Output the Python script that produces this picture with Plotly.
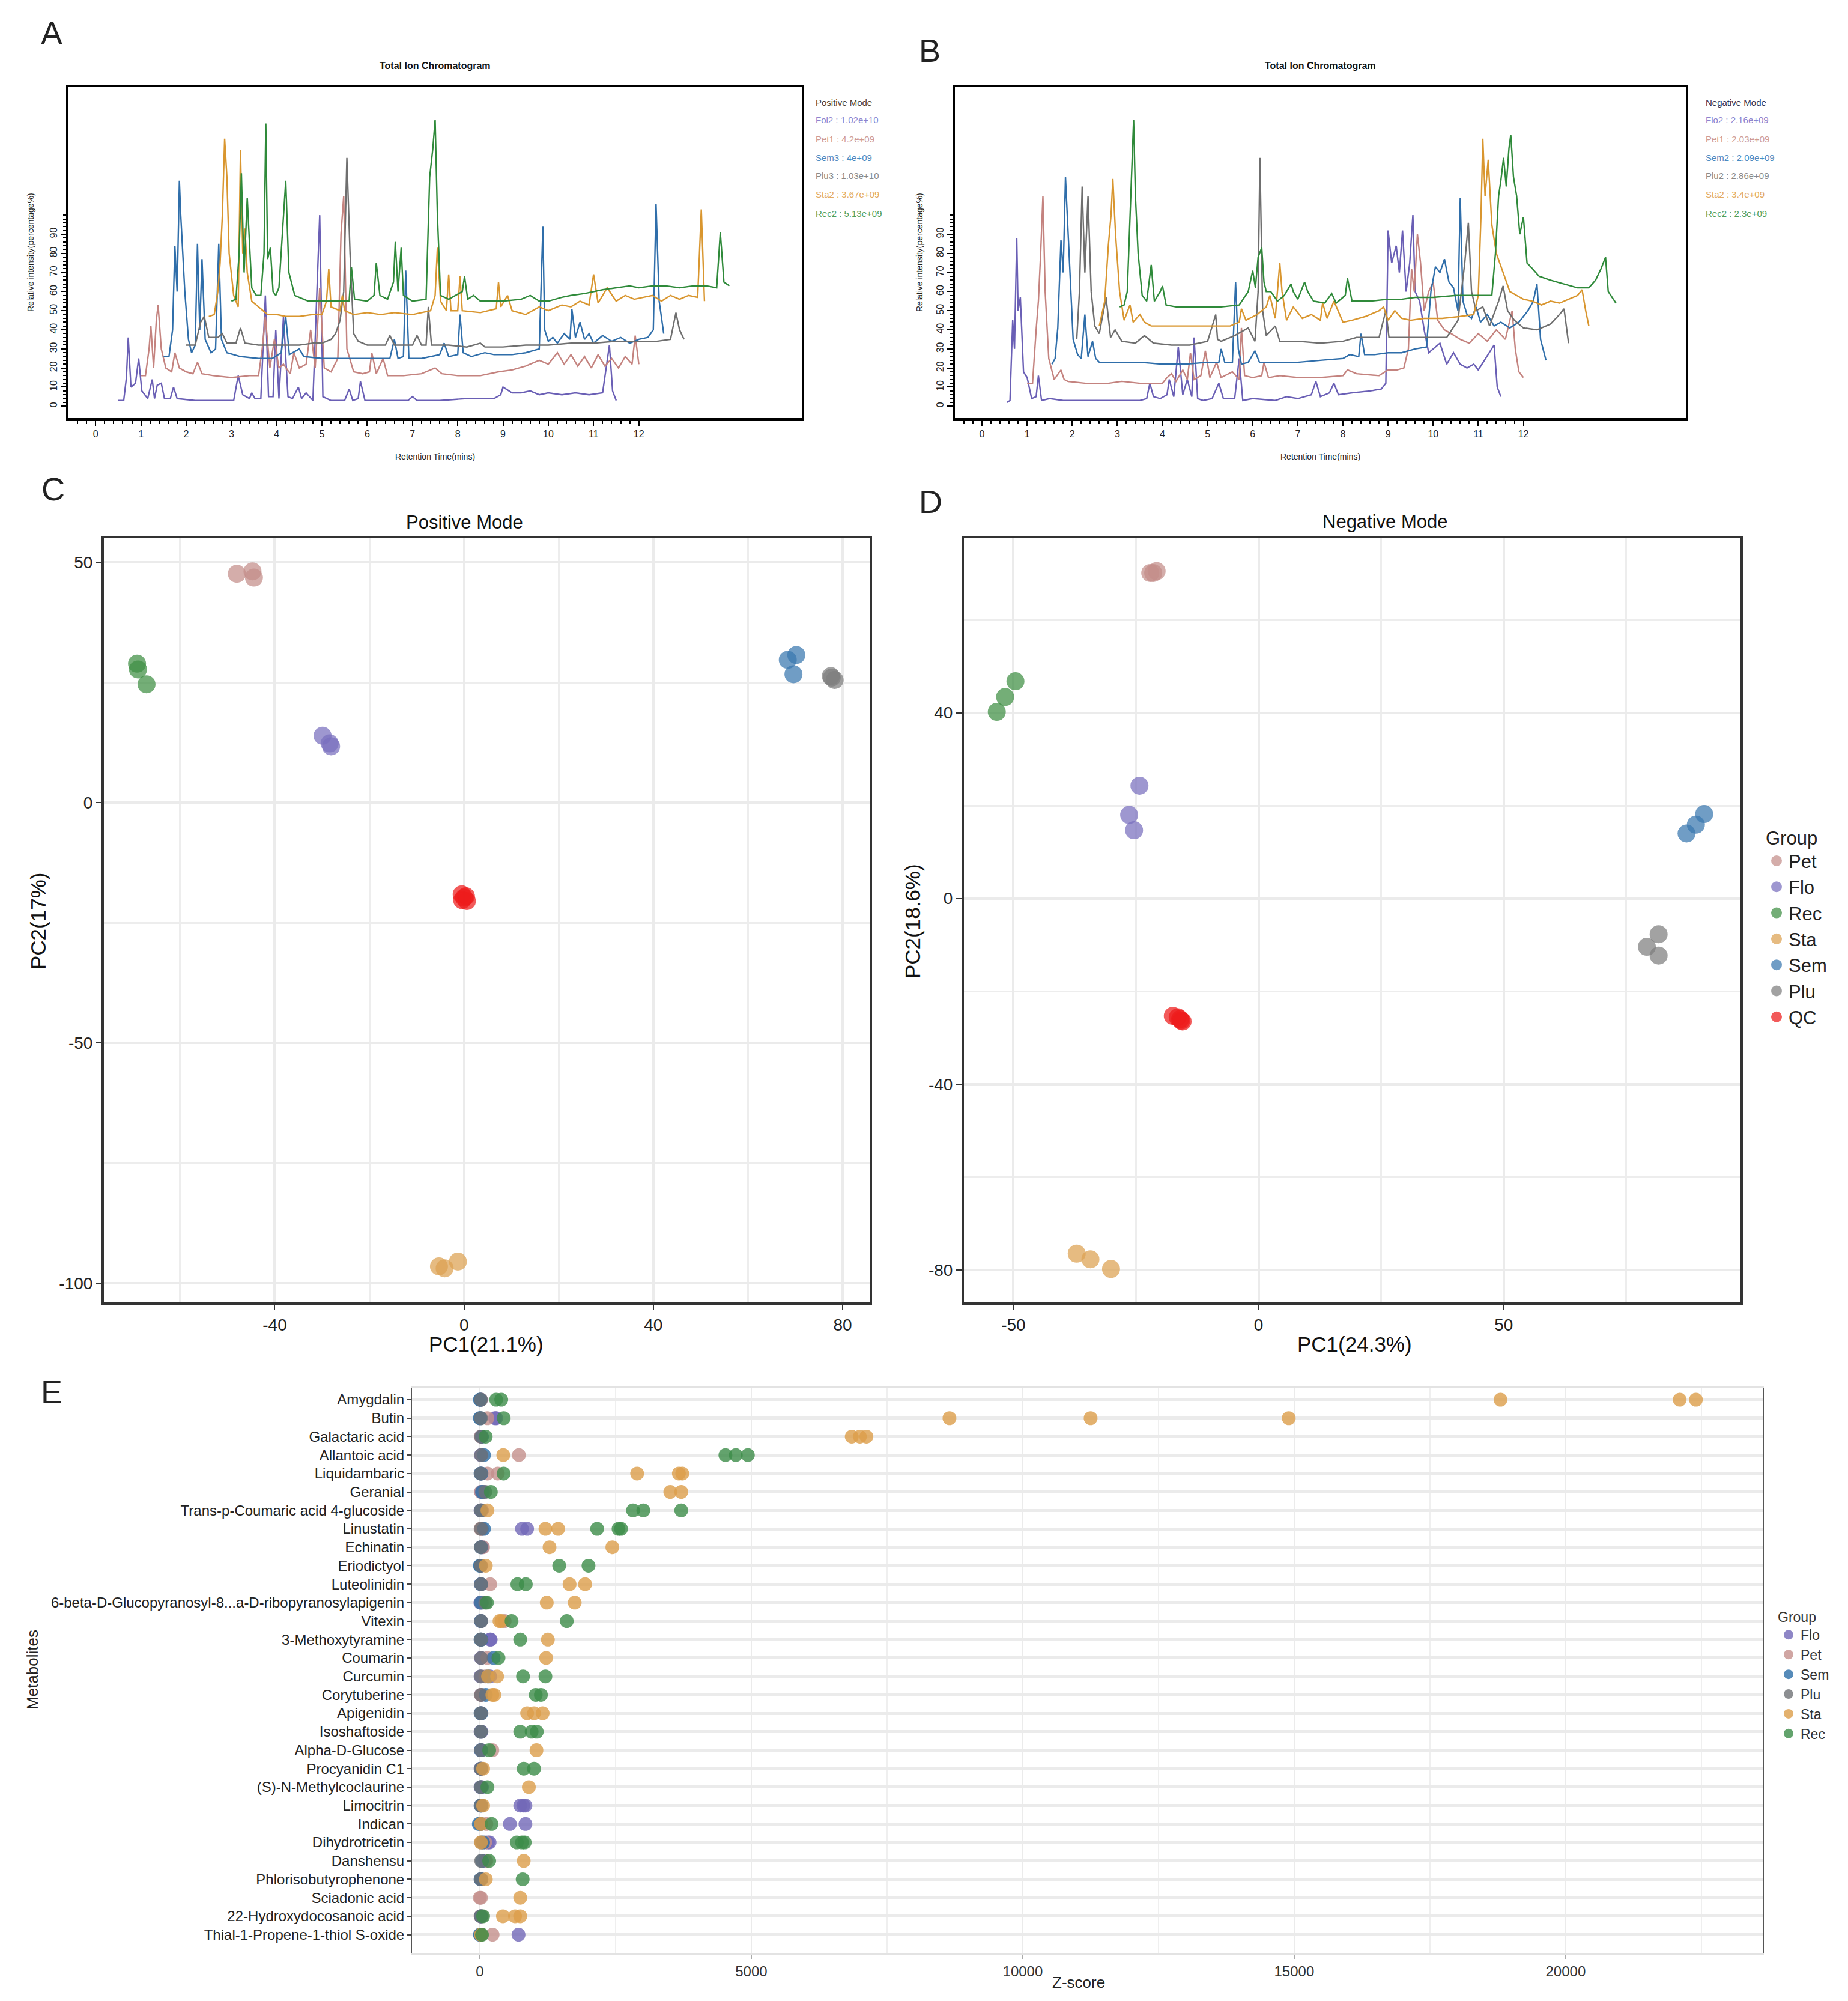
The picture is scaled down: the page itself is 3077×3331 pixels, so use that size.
import plotly.graph_objects as go

W, H = 3077, 3331
FONT = "Liberation Sans, Arial, Helvetica, sans-serif"


def fx(p):
    return p / W


def fy(p):
    return 1 - p / H


# ---------------- Panel A: positive-mode total ion chromatograms ----------------
pos_flo_t = [0.50, 0.62, 0.68, 0.72, 0.78, 0.88, 0.95, 1.02, 1.15, 1.25, 1.30, 1.36, 1.45, 1.52, 1.65, 1.72, 1.80, 2.2, 2.8, 3.05,
             3.15, 3.25, 3.40, 3.45, 3.52, 3.65, 3.75, 3.82, 3.92, 3.98, 4.05, 4.15, 4.25, 4.35, 4.48, 4.55, 4.65, 4.80, 4.95, 5.02,
             5.2, 5.5, 5.6, 5.68, 5.8, 5.85, 5.95, 6.4, 6.9, 7.0, 7.1, 7.6, 8.2, 8.8, 8.95, 9.0, 9.2, 9.4, 9.6, 9.8,
             10.0, 10.3, 10.6, 10.9, 11.2, 11.35, 11.42, 11.5]
pos_flo_v = [3, 3, 15, 36, 10, 12, 25, 8, 4, 14, 4, 11, 12, 4, 4, 10, 4, 3, 3, 3,
             16, 6, 4, 7, 4, 4, 58, 5, 5, 40, 4, 47, 5, 4, 10, 4, 7, 3, 100, 5,
             3, 3, 9, 3, 4, 13, 3, 3, 3, 5, 3, 3, 4, 4, 6, 10, 7, 7, 8, 6,
             7, 6, 7, 6, 7, 32, 8, 3]
pos_pet_t = [1.0, 1.1, 1.18, 1.22, 1.28, 1.34, 1.38, 1.45, 1.55, 1.68, 1.75, 1.85, 2.0, 2.15, 2.25, 2.35, 2.6, 3.0, 3.4, 3.6,
             3.68, 3.75, 3.85, 3.95, 4.05, 4.15, 4.3, 4.38, 4.5, 4.65, 4.75, 4.85, 4.95, 5.05, 5.2, 5.35, 5.42, 5.48, 5.55, 5.7,
             5.9, 6.05, 6.1, 6.2, 6.35, 6.45, 6.8, 7.2, 7.5, 7.65, 8.0, 8.5, 8.9, 9.2, 9.5, 9.8, 10.0, 10.2, 10.35, 10.5,
             10.65, 10.8, 10.95, 11.1, 11.25, 11.4, 11.55, 11.7, 11.85, 11.92, 12.0]
pos_pet_v = [16, 16, 30, 42, 20, 45, 53, 30, 20, 18, 28, 20, 18, 17, 23, 17, 16, 15, 16, 16,
             30, 47, 20, 35, 20, 22, 17, 28, 20, 22, 40, 20, 62, 20, 18, 25, 90, 110, 30, 18,
             17, 18, 28, 17, 25, 16, 16, 17, 20, 17, 16, 16, 18, 19, 21, 24, 22, 28, 22, 27,
             21, 26, 20, 27, 21, 25, 20, 26, 22, 37, 22]
pos_sem_t = [1.5, 1.62, 1.70, 1.75, 1.80, 1.85, 1.88, 1.92, 1.97, 2.05, 2.12, 2.2, 2.25, 2.3, 2.35, 2.42, 2.55, 2.65, 2.72, 2.78,
             2.9, 3.2, 3.6, 3.9, 4.1, 4.2, 4.28, 4.5, 4.6, 5.0, 5.5, 6.0, 6.5, 6.6, 6.68, 6.8, 6.85, 6.92, 7.2, 7.6,
             7.7, 7.8, 8.0, 8.05, 8.12, 8.3, 8.6, 8.8, 9.2, 9.5, 9.8, 9.88, 9.92, 10.0, 10.1, 10.2, 10.35, 10.48, 10.52, 10.6,
             10.7, 10.8, 10.9, 11.0, 11.2, 11.4, 11.6, 11.8, 12.0, 12.2, 12.32, 12.38, 12.45, 12.55]
pos_sem_v = [26, 26, 40, 84, 60, 118, 100, 84, 60, 35, 28, 32, 85, 40, 77, 35, 28, 30, 85, 35,
             28, 26, 25, 25, 28, 47, 27, 30, 26, 25, 25, 25, 25, 35, 25, 26, 71, 25, 25, 27,
             33, 26, 27, 48, 28, 26, 28, 27, 27, 28, 30, 94, 40, 34, 36, 33, 38, 35, 51, 36,
             44, 35, 38, 33, 37, 34, 36, 33, 35, 36, 40, 106, 55, 38]
pos_plu_t = [2.0, 2.2, 2.32, 2.4, 2.5, 2.7, 2.8, 2.9, 3.1, 3.2, 3.3, 3.6, 4.0, 4.5, 4.8, 5.0, 5.2, 5.3, 5.4, 5.48,
             5.55, 5.62, 5.7, 5.8, 6.0, 6.4, 6.5, 6.6, 7.0, 7.1, 7.2, 7.3, 7.35, 7.42, 7.8, 8.2, 8.5, 8.6, 9.0, 9.5,
             10.0, 10.5, 11.0, 11.5, 12.0, 12.4, 12.7, 12.82, 12.9, 13.0]
pos_plu_v = [32, 32, 44, 47, 36, 36, 38, 33, 33, 41, 33, 32, 32, 32, 33, 33, 35, 38, 45, 60,
             130, 80, 38, 34, 32, 32, 37, 32, 32, 37, 32, 32, 52, 32, 32, 31, 33, 31, 31, 32,
             32, 33, 33, 34, 34, 34, 35, 49, 40, 35]
pos_sta_t = [2.5, 2.62, 2.7, 2.75, 2.8, 2.85, 2.9, 2.95, 3.05, 3.15, 3.2, 3.25, 3.3, 3.35, 3.45, 3.6, 3.8, 4.0, 4.2, 4.5,
             4.8, 5.0, 5.1, 5.15, 5.2, 5.4, 5.45, 5.5, 5.7, 6.0, 6.3, 6.6, 7.0, 7.4, 7.5, 7.55, 7.62, 7.75, 7.8, 7.85,
             8.0, 8.05, 8.1, 8.5, 8.85, 8.9, 8.95, 9.1, 9.2, 9.5, 9.8, 10.0, 10.3, 10.5, 10.7, 10.9, 11.0, 11.1, 11.3, 11.5,
             11.7, 11.9, 12.1, 12.3, 12.5, 12.7, 12.9, 13.1, 13.3, 13.38, 13.45]
pos_sta_v = [47, 48, 60, 75, 100, 140, 120, 80, 58, 52, 134, 80, 93, 70, 55, 52, 48, 48, 47, 47,
             48, 48, 55, 72, 52, 50, 58, 50, 48, 49, 48, 49, 48, 50, 58, 83, 55, 50, 69, 50,
             50, 68, 50, 49, 51, 65, 52, 58, 50, 48, 52, 50, 53, 52, 55, 53, 69, 54, 62, 55,
             58, 56, 57, 58, 55, 58, 56, 58, 57, 103, 55]
pos_rec_t = [3.0, 3.1, 3.17, 3.22, 3.28, 3.35, 3.4, 3.45, 3.55, 3.65, 3.72, 3.76, 3.8, 3.86, 3.92, 3.98, 4.05, 4.15, 4.2, 4.27,
             4.4, 4.7, 5.0, 5.4, 5.6, 5.65, 5.72, 6.0, 6.15, 6.2, 6.28, 6.45, 6.58, 6.62, 6.68, 6.75, 6.8, 7.0, 7.3, 7.38,
             7.45, 7.5, 7.55, 7.62, 7.8, 8.1, 8.15, 8.22, 8.35, 8.5, 9.0, 9.4, 9.6, 9.8, 10.0, 10.3, 10.5, 10.8, 11.0, 11.2,
             11.5, 11.8, 12.0, 12.3, 12.6, 12.9, 13.2, 13.5, 13.72, 13.8, 13.88, 14.0]
pos_rec_v = [55, 56, 80, 122, 70, 109, 85, 62, 58, 58, 80, 148, 77, 83, 60, 58, 62, 100, 118, 70,
             58, 55, 55, 55, 55, 73, 56, 55, 58, 75, 58, 56, 65, 86, 60, 83, 58, 55, 56, 120,
             135, 150, 100, 58, 56, 60, 68, 56, 58, 55, 55, 56, 58, 55, 55, 57, 58, 59, 60, 61,
             62, 63, 62, 63, 63, 62, 63, 63, 62, 91, 65, 63]

# ---------------- Panel B: negative-mode total ion chromatograms ----------------
neg_flo_t = [0.55, 0.62, 0.68, 0.72, 0.77, 0.8, 0.85, 0.92, 1.0, 1.1, 1.2, 1.25, 1.32, 1.5, 1.8, 2.5, 3.0, 3.5, 3.65, 3.72,
             3.8, 3.95, 4.1, 4.15, 4.25, 4.35, 4.45, 4.55, 4.65, 4.7, 4.78, 4.9, 5.1, 5.25, 5.35, 5.6, 5.7, 5.78, 6.0, 6.5,
             6.75, 7.0, 7.3, 7.4, 7.5, 7.7, 7.8, 7.9, 8.2, 8.6, 8.85, 8.95, 9.0, 9.08, 9.18, 9.25, 9.32, 9.4, 9.48, 9.55,
             9.6, 9.7, 9.8, 9.9, 10.0, 10.15, 10.3, 10.45, 10.6, 10.75, 10.9, 11.0, 11.35, 11.42, 11.5]
neg_flo_v = [2, 3, 45, 30, 88, 50, 57, 18, 15, 4, 5, 16, 3, 4, 3, 3, 3, 3, 4, 12,
             5, 4, 6, 14, 5, 31, 6, 14, 5, 36, 4, 3, 4, 12, 4, 4, 25, 3, 4, 3,
             5, 4, 6, 13, 5, 7, 12, 6, 7, 8, 9, 12, 92, 75, 84, 70, 92, 60, 75, 100,
             60, 55, 40, 28, 30, 33, 22, 28, 22, 20, 22, 19, 32, 10, 5]
neg_pet_t = [1.0, 1.12, 1.2, 1.25, 1.3, 1.35, 1.4, 1.48, 1.6, 1.75, 1.82, 1.9, 2.3, 2.8, 3.1, 3.5, 4.0, 4.1, 4.2, 4.3,
             4.45, 4.55, 4.62, 4.7, 4.85, 4.95, 5.05, 5.2, 5.3, 5.55, 5.7, 5.75, 5.82, 6.0, 6.2, 6.25, 6.35, 6.6, 7.0, 7.5,
             8.0, 8.1, 8.3, 8.8, 9.0, 9.2, 9.35, 9.45, 9.52, 9.58, 9.65, 9.72, 9.8, 9.9, 10.0, 10.1, 10.25, 10.4, 10.6, 10.8,
             11.0, 11.2, 11.4, 11.6, 11.75, 11.82, 11.9, 12.0]
neg_pet_v = [12, 12, 40, 55, 80, 110, 60, 25, 14, 19, 14, 13, 12, 12, 13, 12, 12, 15, 17, 13,
             19, 14, 28, 14, 16, 29, 15, 23, 15, 18, 14, 41, 16, 15, 16, 23, 15, 16, 15, 15,
             16, 19, 17, 16, 19, 19, 20, 30, 72, 60, 90, 75, 50, 60, 65, 45, 40, 38, 35, 33,
             38, 34, 40, 35, 50, 30, 18, 15]
neg_sem_t = [1.55, 1.62, 1.68, 1.75, 1.8, 1.85, 1.9, 1.95, 2.02, 2.12, 2.2, 2.28, 2.35, 2.45, 2.52, 2.6, 2.8, 3.2, 3.5, 4.0,
             4.5, 5.0, 5.25, 5.3, 5.38, 5.55, 5.62, 5.68, 5.75, 5.9, 6.05, 6.15, 6.5, 7.0, 7.5, 8.0, 8.15, 8.35, 8.4, 8.48,
             8.7, 9.0, 9.3, 9.6, 9.85, 9.95, 10.05, 10.15, 10.25, 10.35, 10.45, 10.55, 10.6, 10.66, 10.75, 10.85, 10.95, 11.05, 11.2, 11.35,
             11.5, 11.7, 11.9, 12.1, 12.22, 12.3, 12.38, 12.5]
neg_sem_v = [22, 25, 41, 87, 70, 120, 95, 71, 35, 27, 25, 48, 26, 34, 25, 23, 23, 23, 23, 22,
             22, 23, 23, 30, 23, 23, 65, 30, 22, 23, 29, 23, 23, 23, 24, 25, 27, 26, 38, 27,
             27, 28, 28, 30, 31, 60, 73, 70, 77, 65, 62, 50, 109, 55, 48, 46, 52, 44, 48, 42,
             44, 41, 44, 50, 55, 64, 35, 24]
neg_plu_t = [2.1, 2.16, 2.22, 2.28, 2.35, 2.42, 2.5, 2.6, 2.75, 2.85, 2.95, 3.1, 3.4, 3.6, 3.8, 4.2, 4.6, 5.0, 5.18, 5.22,
             5.3, 5.6, 5.9, 6.05, 6.12, 6.16, 6.22, 6.3, 6.5, 6.6, 7.0, 7.5, 8.0, 8.3, 8.8, 8.95, 9.02, 9.5, 10.0, 10.3,
             10.55, 10.7, 10.78, 10.85, 10.95, 11.1, 11.25, 11.45, 11.55, 11.65, 11.8, 12.0, 12.3, 12.6, 12.8, 12.9, 13.0]
neg_plu_v = [35, 60, 115, 70, 110, 60, 42, 38, 57, 36, 40, 34, 33, 37, 33, 32, 32, 34, 48, 35,
             34, 37, 41, 34, 60, 130, 50, 37, 42, 34, 34, 33, 34, 36, 36, 50, 36, 36, 36, 36,
             45, 75, 96, 60, 50, 52, 42, 55, 63, 50, 45, 41, 40, 43, 48, 51, 33]
neg_sta_t = [2.6, 2.72, 2.8, 2.86, 2.9, 2.96, 3.05, 3.15, 3.28, 3.35, 3.5, 3.6, 3.75, 4.0, 4.5, 5.0, 5.5, 5.7, 5.75, 5.85,
             6.1, 6.3, 6.38, 6.5, 6.6, 6.65, 6.75, 6.9, 7.1, 7.3, 7.5, 7.55, 7.65, 7.8, 8.0, 8.2, 8.5, 8.8, 8.9, 9.0,
             9.15, 9.3, 9.5, 9.8, 10.2, 10.6, 10.9, 11.0, 11.06, 11.1, 11.15, 11.22, 11.3, 11.4, 11.55, 11.7, 11.85, 12.0, 12.2, 12.4,
             12.6, 12.8, 13.0, 13.2, 13.3, 13.38, 13.45]
neg_sta_v = [42, 55, 84, 100, 119, 90, 60, 45, 53, 44, 48, 44, 42, 42, 42, 42, 42, 44, 51, 45,
             48, 52, 58, 46, 75, 60, 45, 52, 46, 48, 45, 54, 46, 55, 44, 45, 47, 50, 52, 45,
             50, 46, 45, 46, 46, 47, 48, 58, 100, 140, 110, 129, 95, 80, 70, 60, 58, 56, 55, 53,
             55, 54, 56, 58, 61, 50, 42]
neg_rec_t = [3.05, 3.15, 3.22, 3.27, 3.32, 3.36, 3.4, 3.46, 3.55, 3.65, 3.75, 3.82, 3.95, 4.0, 4.08, 4.3, 4.8, 5.3, 5.7, 5.9,
             6.0, 6.06, 6.12, 6.2, 6.25, 6.3, 6.4, 6.55, 6.7, 6.85, 6.9, 7.0, 7.15, 7.22, 7.35, 7.6, 7.75, 7.85, 8.05, 8.1,
             8.2, 8.6, 9.0, 9.3, 9.6, 10.0, 10.5, 11.0, 11.3, 11.38, 11.45, 11.5, 11.56, 11.62, 11.68, 11.72, 11.78, 11.85, 11.92, 12.0,
             12.08, 12.2, 12.35, 12.6, 12.9, 13.2, 13.45, 13.6, 13.72, 13.82, 13.88, 14.05]
neg_rec_v = [52, 53, 60, 91, 120, 150, 110, 80, 58, 55, 74, 55, 60, 63, 53, 52, 52, 52, 53, 60,
             71, 62, 78, 83, 65, 60, 60, 55, 58, 64, 60, 56, 65, 60, 55, 54, 59, 54, 58, 67,
             55, 55, 56, 56, 57, 57, 58, 58, 58, 80, 110, 118, 130, 115, 135, 142, 120, 110, 90, 99,
             75, 72, 68, 66, 64, 62, 62, 66, 72, 78, 60, 54]

tic_groups = ["Flo", "Pet", "Sem", "Plu", "Sta", "Rec"]
pos_legend_labels = ["Fol2 : 1.02e+10", "Pet1 : 4.2e+09", "Sem3 : 4e+09", "Plu3 : 1.03e+10", "Sta2 : 3.67e+09", "Rec2 : 5.13e+09"]
neg_legend_labels = ["Flo2 : 2.16e+09", "Pet1 : 2.03e+09", "Sem2 : 2.09e+09", "Plu2 : 2.86e+09", "Sta2 : 3.4e+09", "Rec2 : 2.3e+09"]

# ---------------- Panels C / D: PCA scores ----------------
pca_pos_group = ["Pet", "Pet", "Pet", "Flo", "Flo", "Flo", "Rec", "Rec", "Rec", "Sta", "Sta", "Sta",
                 "Sem", "Sem", "Sem", "Plu", "Plu", "Plu", "QC", "QC", "QC", "QC", "QC"]
pca_pos_pc1 = [-48.0, -44.7, -44.4, -29.9, -28.4, -28.1, -69.1, -68.9, -67.1, -5.3, -4.1, -1.3,
               68.4, 70.2, 69.6, 77.5, 78.3, 77.7, -0.5, 0.6, 0.0, -0.4, 0.4]
pca_pos_pc2 = [47.6, 48.1, 46.8, 13.9, 12.3, 11.7, 28.9, 27.7, 24.6, -96.5, -96.9, -95.5,
               29.7, 30.7, 26.7, 26.3, 25.5, 26.0, -19.1, -20.5, -19.8, -20.3, -19.5]

pca_neg_group = pca_pos_group
pca_neg_pc1 = [-22.1, -20.8, -21.5, -24.3, -26.4, -25.4, -53.4, -51.7, -49.6, -37.1, -34.3, -30.1,
               87.3, 89.2, 90.9, 79.2, 81.6, 81.6, -17.5, -16.0, -15.5, -16.5, -15.8]
pca_neg_pc2 = [70.1, 70.5, 70.1, 24.3, 18.0, 14.7, 40.2, 43.4, 46.8, -76.5, -77.7, -79.8,
               14.0, 15.9, 18.2, -10.4, -7.7, -12.3, -25.3, -26.0, -26.5, -25.6, -26.3]
pca_group_order = ["Pet", "Flo", "Rec", "Sta", "Sem", "Plu", "QC"]

pos_pc1_ticks = [-40, 0, 40, 80]
pos_pc2_ticks = [-100, -50, 0, 50]
neg_pc1_ticks = [-50, 0, 50]
neg_pc2_ticks = [-80, -40, 0, 40]

# ---------------- Panel E: metabolite Z-scores ----------------
metabolites = ["Amygdalin", "Butin", "Galactaric acid", "Allantoic acid", "Liquidambaric", "Geranial",
               "Trans-p-Coumaric acid 4-glucoside", "Linustatin", "Echinatin", "Eriodictyol", "Luteolinidin",
               "6-beta-D-Glucopyranosyl-8...a-D-ribopyranosylapigenin", "Vitexin", "3-Methoxytyramine", "Coumarin",
               "Curcumin", "Corytuberine", "Apigenidin", "Isoshaftoside", "Alpha-D-Glucose", "Procyanidin C1",
               "(S)-N-Methylcoclaurine", "Limocitrin", "Indican", "Dihydrotricetin", "Danshensu",
               "Phlorisobutyrophenone", "Sciadonic acid", "22-Hydroxydocosanoic acid", "Thial-1-Propene-1-thiol S-oxide"]
z_flo = [[20], [280, 300], [20], [20], [20], [25, 60], [13, 40], [775, 870], [25, 50], [20], [20], [10, 40], [20], [190, 200],
         [20], [13, 190], [20], [20], [13, 30], [20], [13, 30], [13, 40], [743, 800, 839], [553, 839], [150, 180], [100], [20],
         [], [20], [712]]
z_pet = [[20], [140], [20], [718], [140, 330], [20], [20], [13, 40], [60], [20], [190], [20], [457], [20], [140], [100], [20],
         [20], [20], [230], [20], [20], [20], [120], [100], [120], [20], [0, 20], [13, 40], [235]]
z_sem = [[0, 10], [0, 10], [40], [76], [13, 30], [40], [20], [76], [20], [0, 10], [20], [20], [20], [13, 30], [254], [150],
         [110], [13, 30], [20], [20], [20], [20], [13, 30], [-19, 10], [60], [40], [13, 30], [], [20], [0, 10]]
z_plu = [[20], [20], [25], [25], [20], [100], [20], [20], [20], [20], [25], [100], [25], [20], [25], [20], [25], [20], [20],
         [25], [20], [20], [20], [20], [25], [25], [20], [], [20], [20]]
z_sta = [[18800, 22100, 22400], [8650, 11250, 14900], [6850, 7000, 7120], [432], [2897, 3666, 3729], [3507, 3710], [140],
         [1207, 1442], [1283, 2440], [110], [1652, 1938], [1232, 1747], [362, 400], [1252], [1220], [150, 318], [230, 267],
         [870, 997, 1156], [], [1042], [60], [902], [60], [20], [20], [807], [110], [743], [426, 648, 743], [20]]
z_rec = [[300, 394], [440], [108], [4523, 4714, 4936], [438], [203], [2821, 3011, 3710], [2160, 2554, 2600], [],
         [1461, 2001], [692, 845], [130], [584, 1601], [743], [343], [794, 1207], [1029, 1124], [], [743, 953, 1048], [172],
         [807, 997], [140], [], [216], [680, 775, 826], [172], [788], [], [60], [40]]
z_group_order = ["Flo", "Pet", "Sem", "Plu", "Sta", "Rec"]

# ---------------- styles ----------------
tic_colors = {"Flo": "#6A5FB5", "Pet": "#C4837F", "Sem": "#2F6EAA", "Plu": "#6F6F6F", "Sta": "#D9962F", "Rec": "#2F8A3A"}
tic_text_colors = {"Flo": "#8C84CF", "Pet": "#CE9A95", "Sem": "#4C8AC2", "Plu": "#8A8A8A", "Sta": "#E3AA5E", "Rec": "#4E9E5A"}
pca_colors = {"Pet": "#C48E8A", "Flo": "#7A70BF", "Rec": "#3F8F44", "Sta": "#DDA252", "Sem": "#3A78B0", "Plu": "#7F7F7F", "QC": "#EE1C1C"}
z_colors = {"Flo": "#7268B8", "Pet": "#C4908C", "Sem": "#2C6EA8", "Plu": "#6F7275", "Sta": "#DC9E4A", "Rec": "#3C8C48"}

fig = go.Figure()

pos_series = {"Flo": (pos_flo_t, pos_flo_v), "Pet": (pos_pet_t, pos_pet_v), "Sem": (pos_sem_t, pos_sem_v),
              "Plu": (pos_plu_t, pos_plu_v), "Sta": (pos_sta_t, pos_sta_v), "Rec": (pos_rec_t, pos_rec_v)}
neg_series = {"Flo": (neg_flo_t, neg_flo_v), "Pet": (neg_pet_t, neg_pet_v), "Sem": (neg_sem_t, neg_sem_v),
              "Plu": (neg_plu_t, neg_plu_v), "Sta": (neg_sta_t, neg_sta_v), "Rec": (neg_rec_t, neg_rec_v)}

for series, xa, ya in [(pos_series, "x", "y"), (neg_series, "x2", "y2")]:
    for g in tic_groups:
        t, v = series[g]
        n = min(len(t), len(v))
        fig.add_trace(go.Scatter(x=t[:n], y=v[:n], mode="lines", line=dict(color=tic_colors[g], width=2.4),
                                 xaxis=xa, yaxis=ya, showlegend=False, hoverinfo="skip"))

for (grp, pc1, pc2, xa, ya, show) in [(pca_pos_group, pca_pos_pc1, pca_pos_pc2, "x3", "y3", False),
                                      (pca_neg_group, pca_neg_pc1, pca_neg_pc2, "x4", "y4", True)]:
    for g in pca_group_order:
        xs = [a for a, gg in zip(pc1, grp) if gg == g]
        ys = [b for b, gg in zip(pc2, grp) if gg == g]
        fig.add_trace(go.Scatter(x=xs, y=ys, mode="markers", name=g, legend="legend",
                                 marker=dict(size=28, color=pca_colors[g], opacity=0.72,
                                             line=dict(color=pca_colors[g], width=2)),
                                 xaxis=xa, yaxis=ya, showlegend=show, hoverinfo="skip"))

z_data = {"Flo": z_flo, "Pet": z_pet, "Sem": z_sem, "Plu": z_plu, "Sta": z_sta, "Rec": z_rec}
for g in z_group_order:
    xs, ys = [], []
    for met, vals in zip(metabolites, z_data[g]):
        for val in vals:
            xs.append(val)
            ys.append(met)
    fig.add_trace(go.Scatter(x=xs, y=ys, mode="markers", name=g, legend="legend2",
                             marker=dict(size=23, color=z_colors[g], opacity=0.8, line=dict(width=0)),
                             xaxis="x5", yaxis="y5", hoverinfo="skip"))

# ---------------- axes ----------------
tic_minor_x = [round(i * 0.2, 1) for i in range(-2, 61) if i % 5 != 0]
tic_minor_y = [v for v in range(0, 101, 2) if v % 10 != 0] + [100]


def tic_xaxis(dom, anchor):
    return dict(domain=dom, anchor=anchor, range=[-0.6, 15.6], tickmode="array", tickvals=list(range(13)),
                ticks="outside", ticklen=9, tickwidth=2, tickcolor="black",
                showline=True, mirror=True, linecolor="black", linewidth=4, showgrid=False, zeroline=False,
                tickfont=dict(size=16, color="#222", family=FONT),
                minor=dict(tickmode="array", tickvals=tic_minor_x, ticks="outside", ticklen=5, tickwidth=1.5,
                           tickcolor="black", showgrid=False))


def tic_yaxis(dom, anchor):
    return dict(domain=dom, anchor=anchor, range=[-6.2, 167], tickmode="array", tickvals=list(range(0, 91, 10)),
                ticks="outside", ticklen=9, tickwidth=2, tickcolor="black", tickangle=-90,
                showline=True, mirror=True, linecolor="black", linewidth=4, showgrid=False, zeroline=False,
                tickfont=dict(size=16, color="#222", family=FONT),
                minor=dict(tickmode="array", tickvals=tic_minor_y, ticks="outside", ticklen=5, tickwidth=1.5,
                           tickcolor="black", showgrid=False))


def pca_axis(dom, anchor, rng, tickvals, mdtick):
    return dict(domain=dom, anchor=anchor, range=rng, tickmode="array", tickvals=tickvals,
                ticktext=[str(v) for v in tickvals],
                showline=True, mirror=True, linecolor="#333333", linewidth=4,
                showgrid=True, gridcolor="#EBEBEB", gridwidth=4, zeroline=False,
                ticks="outside", ticklen=9, tickwidth=2, tickcolor="#333333",
                tickfont=dict(size=28, color="#222", family=FONT),
                minor=dict(tick0=0, dtick=mdtick, showgrid=True, gridcolor="#EDEDED", gridwidth=3, ticks=""))


tic_ydom = [fy(688), fy(137)]
pca_ydom = [fy(2160), fy(888)]

layout = dict(
    width=W, height=H, margin=dict(l=0, r=0, t=0, b=0),
    paper_bgcolor="white", plot_bgcolor="white",
    font=dict(family=FONT, color="#222"),
    xaxis=tic_xaxis([fx(106), fx(1327)], "y"),
    yaxis=tic_yaxis(tic_ydom, "x"),
    xaxis2=tic_xaxis([fx(1582), fx(2799)], "y2"),
    yaxis2=tic_yaxis(tic_ydom, "x2"),
    xaxis3=pca_axis([fx(165), fx(1440)], "y3", [-76.1, 85.7], pos_pc1_ticks, 20),
    yaxis3=pca_axis(pca_ydom, "x3", [-104, 55], pos_pc2_ticks, 25),
    xaxis4=pca_axis([fx(1597), fx(2890)], "y4", [-60.1, 98.3], neg_pc1_ticks, 25),
    yaxis4=pca_axis(pca_ydom, "x4", [-87.0, 77.6], neg_pc2_ticks, 20),
    xaxis5=dict(domain=[fx(678), fx(2927)], anchor="y5", range=[-1250, 23630], tick0=0, dtick=5000,
                tickformat="d",
                showgrid=True, gridcolor="#EBEBEB", gridwidth=2, zeroline=False,
                showline=True, mirror=True, linecolor="#E3E3E3", linewidth=3,
                ticks="outside", ticklen=7, tickwidth=2, tickcolor="#AAAAAA",
                tickfont=dict(size=24, color="#333", family=FONT),
                minor=dict(tick0=0, dtick=2500, showgrid=True, gridcolor="#EFEFEF", gridwidth=1.5, ticks="")),
    yaxis5=dict(domain=[fy(3243), fy(2303)], anchor="x5", type="category", categoryorder="array",
                categoryarray=metabolites, range=[29.99, -0.62],
                showgrid=True, gridcolor="#EBEBEB", gridwidth=5, zeroline=False,
                showline=True, mirror=True, linecolor="#555555", linewidth=2,
                ticks="outside", ticklen=6, tickwidth=2, tickcolor="#444",
                tickfont=dict(size=24, color="#222", family=FONT)),
    legend=dict(title=dict(text="Group", font=dict(size=31, color="#222")), font=dict(size=31, color="#222"),
                x=fx(2930), y=fy(1358), xanchor="left", yanchor="top", bgcolor="rgba(0,0,0,0)",
                tracegroupgap=0, itemsizing="trace"),
    legend2=dict(title=dict(text="Group", font=dict(size=23, color="#333")), font=dict(size=23, color="#333"),
                 x=fx(2950), y=fy(2662), xanchor="left", yanchor="top", bgcolor="rgba(0,0,0,0)",
                 tracegroupgap=0, itemsizing="trace"),
)
fig.update_layout(**layout)

# ---------------- annotations ----------------
anns = []


def ann(text, x, y, size, color="#222", angle=0, xanchor="center", yanchor="middle", bold=False):
    if bold:
        text = "<b>" + text + "</b>"
    anns.append(dict(text=text, x=fx(x), y=fy(y), xref="paper", yref="paper", showarrow=False,
                     font=dict(size=size, color=color, family=FONT), textangle=angle,
                     xanchor=xanchor, yanchor=yanchor))


for letter, x, y in [("A", 78, 47), ("B", 1540, 76), ("C", 80, 806), ("D", 1541, 827), ("E", 78, 2309)]:
    ann(letter, x, y, 54, "#222")

for cx in (716, 2190):
    ann("Total Ion Chromatogram", cx, 101, 16, "#111", bold=True)
    ann("Retention Time(mins)", cx, 752, 14, "#222")
ann("Relative intensity(percentage%)", 43, 412, 14, "#222", angle=-90)
ann("Relative intensity(percentage%)", 1523, 412, 14, "#222", angle=-90)

legend_y = [162, 192, 223, 254, 285, 316, 347]
ann("Positive Mode", 1348, legend_y[0], 15, "#4E4035", xanchor="left")
for lab, g, yy in zip(pos_legend_labels, tic_groups, legend_y[1:]):
    ann(lab, 1348, yy, 15, tic_text_colors[g], xanchor="left")
ann("Negative Mode", 2830, legend_y[0], 15, "#2F2F50", xanchor="left")
for lab, g, yy in zip(neg_legend_labels, tic_groups, legend_y[1:]):
    ann(lab, 2830, yy, 15, tic_text_colors[g], xanchor="left")

ann("Positive Mode", 765, 862, 31, "#111")
ann("Negative Mode", 2298, 860, 31, "#111")
ann("PC1(21.1%)", 802, 2229, 35, "#111")
ann("PC1(24.3%)", 2247, 2229, 35, "#111")
ann("PC2(17%)", 55, 1526, 35, "#111", angle=-90)
ann("PC2(18.6%)", 1511, 1526, 35, "#111", angle=-90)

ann("Z-score", 1788, 3292, 26, "#222")
ann("Metabolites", 46, 2772, 26, "#222", angle=-90)

fig.update_layout(annotations=anns)
fig.write_html("out.html")
